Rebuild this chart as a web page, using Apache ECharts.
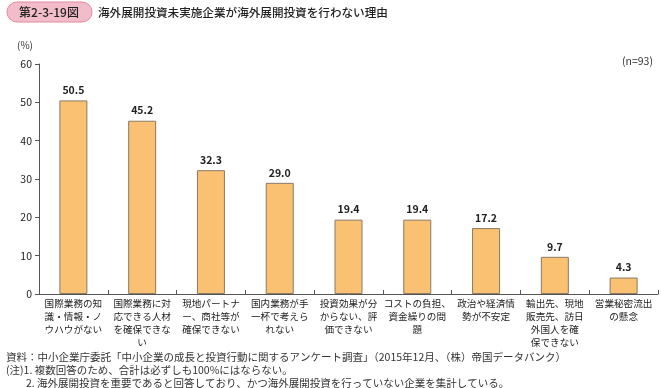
<!DOCTYPE html>
<html><head><meta charset="utf-8">
<script src="https://cdn.jsdelivr.net/npm/echarts@6/dist/echarts.min.js"></script>
<style>html,body{margin:0;padding:0;background:#fff}#c{width:661px;height:388px}</style>
</head><body><div id="c"></div>
<script>
const categories = [
  '国際業務の知\n識・情報・ノ\nウハウがない',
  '国際業務に対\n応できる人材\nを確保できな\nい',
  '現地パートナ\nー、商社等が\n確保できない',
  '国内業務が手\n一杯で考えら\nれない',
  '投資効果が分\nからない、評\n価できない',
  'コストの負担、\n資金繰りの問\n題',
  '政治や経済情\n勢が不安定',
  '輸出先、現地\n販売先、訪日\n外国人を確\n保できない',
  '営業秘密流出\nの懸念'
];
const values = [50.5, 45.2, 32.3, 29.0, 19.4, 19.4, 17.2, 9.7, 4.3];
const yTicks = [0, 10, 20, 30, 40, 50, 60];
const figNo = '第2-3-19図';
const titleText = '海外展開投資未実施企業が海外展開投資を行わない理由';
const notes = [
  '資料：中小企業庁委託「中小企業の成長と投資行動に関するアンケート調査」（2015年12月、（株）帝国データバンク）',
  '(注)1. 複数回答のため、合計は必ずしも100%にはならない。',
  '2. 海外展開投資を重要であると回答しており、かつ海外展開投資を行っていない企業を集計している。'
];
const FONT = '"Noto Sans CJK JP", "Noto Sans", sans-serif';
const chart = echarts.init(document.getElementById('c'));
chart.setOption({
  animation: false,
  textStyle: { fontFamily: FONT },
  grid: { left: 39, right: 3, top: 64, bottom: 94, containLabel: false },
  graphic: [
    { type: 'rect', shape: { x: 7, y: 2, width: 85, height: 20, r: 10 },
      style: { fill: '#f3bccb', stroke: '#e08aa3', lineWidth: 1 } },
    { type: 'text', x: 49, y: 12.5, style: { text: figNo, fill: '#222', font: '500 12px ' + FONT, align: 'center', verticalAlign: 'middle' } },
    { type: 'text', x: 98, y: 12.5, style: { text: titleText, fill: '#222', font: '500 11.6px ' + FONT, verticalAlign: 'middle' } },
    { type: 'text', x: 17, y: 45, style: { text: '(%)', fill: '#333', font: '10px ' + FONT, verticalAlign: 'middle' } },
    { type: 'text', x: 653, y: 61, style: { text: '(n=93)', fill: '#333', font: '10.5px ' + FONT, align: 'right', verticalAlign: 'middle' } },
    { type: 'text', x: 6, y: 357, style: { text: notes[0], fill: '#333', font: '10.5px ' + FONT, verticalAlign: 'middle' } },
    { type: 'text', x: 6, y: 370, style: { text: notes[1], fill: '#333', font: '10.5px ' + FONT, verticalAlign: 'middle' } },
    { type: 'text', x: 26, y: 383, style: { text: notes[2], fill: '#333', font: '10.5px ' + FONT, verticalAlign: 'middle' } }
  ],
  xAxis: {
    type: 'category', data: categories,
    axisLine: { lineStyle: { color: '#555', width: 1 } },
    axisTick: { show: true, inside: true, length: 4, alignWithLabel: false, lineStyle: { color: '#555' } },
    axisLabel: { interval: 0, color: '#222', fontSize: 9.6, lineHeight: 13, margin: 3, fontFamily: FONT }
  },
  yAxis: {
    type: 'value', min: yTicks[0], max: yTicks[yTicks.length - 1], interval: 10,
    axisLine: { show: true, lineStyle: { color: '#555', width: 1 } },
    axisTick: { show: true, length: 4, lineStyle: { color: '#555' } },
    splitLine: { show: false },
    axisLabel: { color: '#222', fontSize: 10.5, margin: 7, fontFamily: FONT }
  },
  series: [{
    type: 'bar', data: values, barWidth: 28,
    itemStyle: { color: '#f9c171', borderColor: '#8a7a66', borderWidth: 1 },
    label: { show: true, position: 'top', distance: 5, color: '#222', fontSize: 10.5, fontWeight: 'bold', fontFamily: FONT,
      formatter: p => p.value.toFixed(1) }
  }]
});
</script></body></html>
